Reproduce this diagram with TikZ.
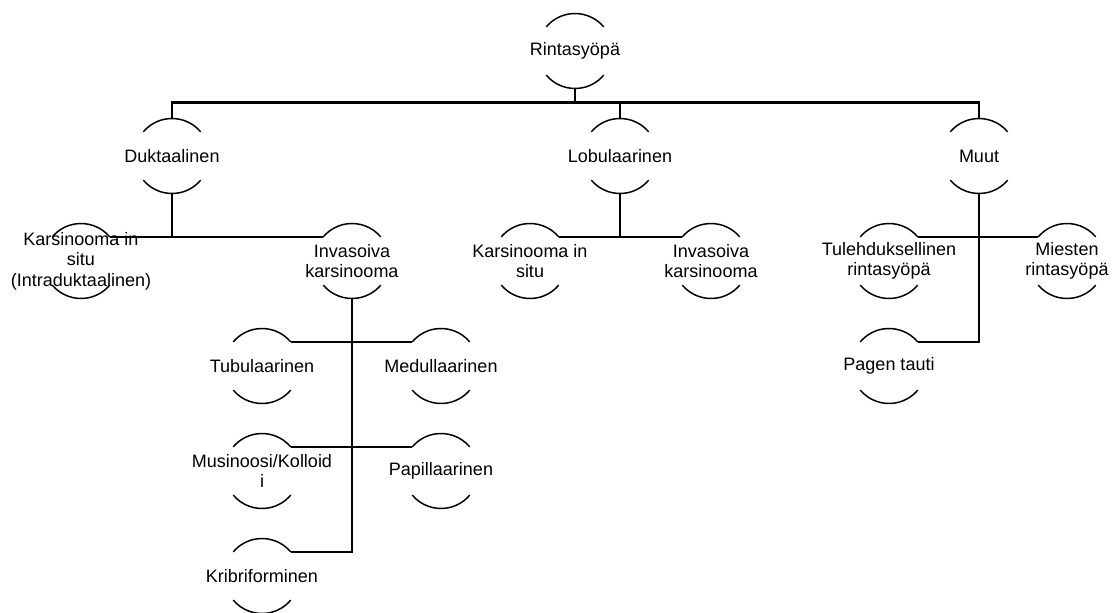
\documentclass[tikz,border=0pt]{standalone}
\usepackage{fontspec}
\newfontfamily\orgfont{Liberation Sans}
\usetikzlibrary{positioning,calc}

\begin{document}
\begin{tikzpicture}[x=1pt, y=-1pt,
      orgnode/.style = {align=center, inner sep=0pt, font=\orgfont\fontsize{18}{20.5}\selectfont},
      half/.style = {line width=1.5pt},
      link/.style = {line width=2.1pt},
      ]
      \useasboundingbox (0,0) rectangle (1119,613);
      \def\arcr{37.5pt}

      % top levels
      \node[orgnode] (root) at (575,51) {Rintasyöpä};
      \node[orgnode] (duk) at (172,156) {Duktaalinen};
      \node[orgnode] (lob) at (620,156) {Lobulaarinen};
      \node[orgnode] (muut) at (979,156) {Muut};

      \node[orgnode] (dcis) at (81,261) {Karsinooma in\\situ\\(Intraduktaalinen)};
      \node[orgnode] (dinv) at (352,261) {Invasoiva\\karsinooma};
      \node[orgnode] (lcis) at (530,261) {Karsinooma in\\situ};
      \node[orgnode] (linv) at (711,261) {Invasoiva\\karsinooma};
      \node[orgnode] (tul) at (889,261) {Tulehduksellinen\\rintasyöpä};
      \node[orgnode] (mies) at (1067,261) {Miesten\\rintasyöpä};
      \node[orgnode] (page) at (889,366) {Pagen tauti};

      % invasive subtypes
      \node[orgnode] (tub) at (262,366) {Tubulaarinen};
      \node[orgnode] (med) at (441,366) {Medullaarinen};
      \node[orgnode] (mus) at (262,471) {Musinoosi/Kolloid\\i};
      \node[orgnode] (pap) at (441,471) {Papillaarinen};
      \node[orgnode] (krib) at (262,576) {Kribriforminen};

      % half circles above and below each text
      \foreach \n in {root,duk,lob,muut,dcis,dinv,lcis,linv,tul,mies,page,tub,med,mus,pap,krib} {
        \draw[half] (\n.center) ++(40:\arcr) arc[start angle=40, end angle=140, radius=\arcr]
                    (\n.center) ++(220:\arcr) arc[start angle=220, end angle=320, radius=\arcr];
        \coordinate (\n-t) at ($(\n.center)+(0,\arcr)$);
        \coordinate (\n-b) at ($(\n.center)+(0,-\arcr)$);
        \coordinate (\n-tl) at ($(\n.center)+(140:\arcr)$);
        \coordinate (\n-tr) at ($(\n.center)+(40:\arcr)$);
      }

      \draw[link] (root-b) -- ++(0,-14pt) coordinate (bus);
      \draw[link] (duk-t) -- (duk-t |- bus) -- (muut-t |- bus) -- (muut-t);
      \draw[link] (lob-t |- bus) -- (lob-t);

      \draw[link] (duk-b) -- (duk-b |- dcis-tr) (dcis-tr) -- (dinv-tl);
      \draw[link] (lob-b) -- (lob-b |- lcis-tr) (lcis-tr) -- (linv-tl);
      \draw[link] (muut-b) |- (page-tr) (tul-tr) -- (mies-tl);
      \draw[link] (dinv-b) |- (krib-tr) (tub-tr) -- (med-tl) (mus-tr) -- (pap-tl);
    \end{tikzpicture}
\end{document}
